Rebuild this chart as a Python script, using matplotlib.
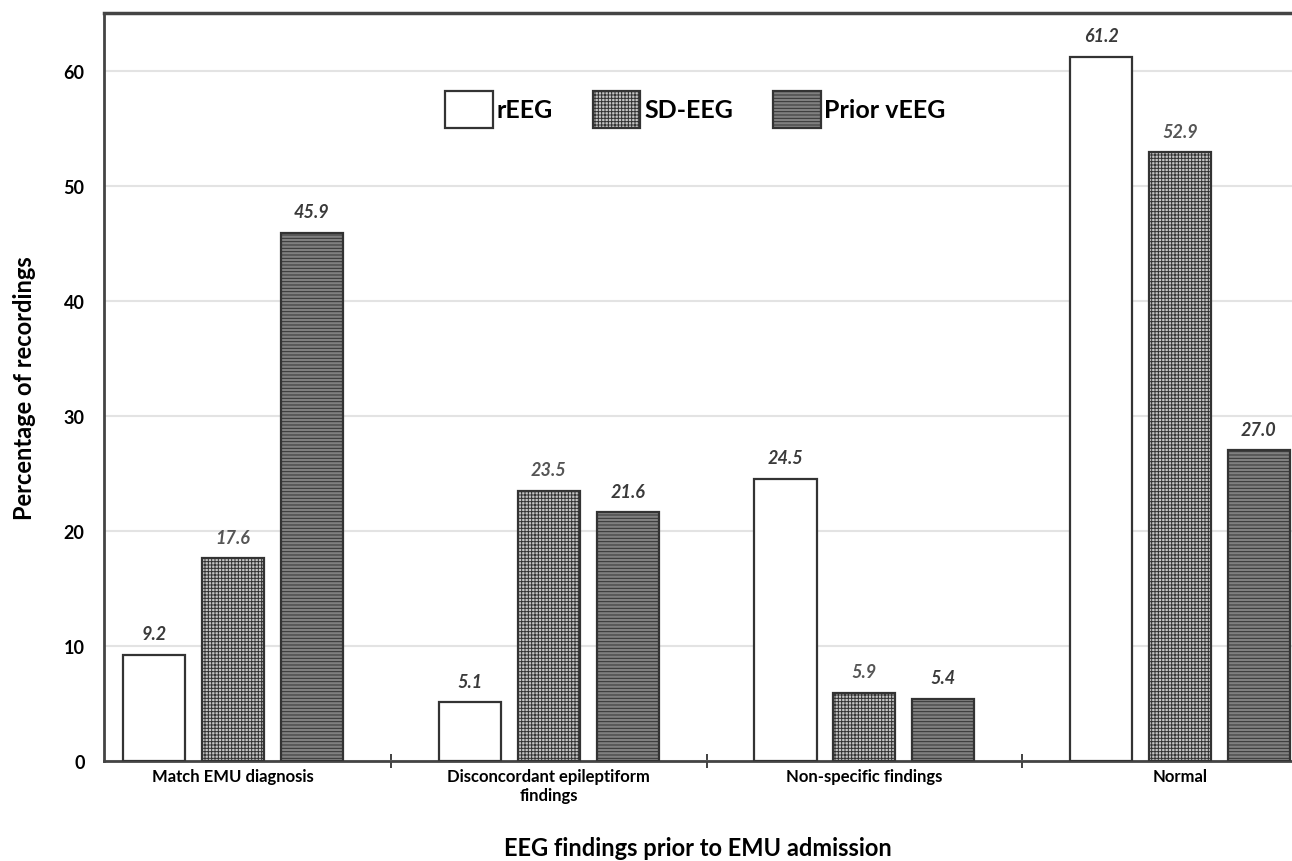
import matplotlib
matplotlib.use("Agg")
import matplotlib.pyplot as plt
import numpy as np

plt.rcParams['font.family'] = ['Lato', 'DejaVu Sans']
plt.rcParams['hatch.linewidth'] = 0.7

categories = ["Match EMU diagnosis", "Disconcordant epileptiform\nfindings",
              "Non-specific findings", "Normal"]
series_names = ["rEEG", "SD-EEG", "Prior vEEG"]
reeg = [9.2, 5.1, 24.5, 61.2]
sdeeg = [17.6, 23.5, 5.9, 52.9]
prior = [45.9, 21.6, 5.4, 27.0]
yticks = [0, 10, 20, 30, 40, 50, 60]

W, H = 1292, 862
fig = plt.figure(figsize=(W/100, H/100), dpi=100)
ax = fig.add_axes([104/W, (H-762)/H, (W-104)/W, (762-14)/H])

x = np.arange(len(categories))
bw = 0.197
off = 0.25
styles = [
    dict(facecolor='white', edgecolor='#333333', hatch=None),
    dict(facecolor='#c4c4c4', edgecolor='#333333', hatch='+++++'),
    dict(facecolor='#808080', edgecolor='#333333', hatch='-----'),
]
label_colors = ['#3a3a3a', '#555555', '#3a3a3a']
handles = []
for i, (vals, st) in enumerate(zip([reeg, sdeeg, prior], styles)):
    pos = x + (i - 1) * off
    bars = ax.bar(pos, vals, bw, facecolor=st['facecolor'], edgecolor=st['edgecolor'],
                  hatch=st['hatch'], linewidth=1.6, zorder=3, label=series_names[i])
    handles.append(bars)
    for p, v in zip(pos, vals):
        ax.text(p, v + 1.1, f"{v:.1f}", ha='center', va='bottom', fontsize=13,
                fontstyle='italic', fontweight='bold', color=label_colors[i], zorder=4)

ax.set_xlim(-0.409, 3.355)
ax.set_ylim(0, 65)
ax.set_yticks(yticks)
ax.set_yticklabels([str(t) for t in yticks], fontsize=13, fontweight='bold')
ax.tick_params(axis='y', length=0, pad=14)
ax.set_xticks(x)
ax.set_xticklabels(categories, fontsize=12, fontweight='bold')
ax.tick_params(axis='x', length=0, pad=5)
ax.set_xticks([0.5, 1.5, 2.5], minor=True)
ax.tick_params(axis='x', which='minor', length=10, width=1.3, direction='inout', color='#333333')

ax.grid(axis='y', color='#e3e3e3', linewidth=1.5, zorder=0)
ax.set_axisbelow(True)
for s in ['left', 'bottom', 'top']:
    ax.spines[s].set_color('#444444')
    ax.spines[s].set_linewidth(2.0)
ax.spines['top'].set_linewidth(2.5)
ax.spines['right'].set_visible(False)

ax.set_ylabel("Percentage of recordings", fontsize=17, fontweight='bold', labelpad=20)
ax.set_xlabel("EEG findings prior to EMU admission", fontsize=17, fontweight='bold', labelpad=24)

leg = ax.legend(handles=handles, loc='upper center', bbox_to_anchor=(0.498, 0.926), ncol=3,
                frameon=False, prop={'weight': 'bold', 'size': 18},
                handlelength=1.9, handleheight=1.9, handletextpad=0.15, columnspacing=1.6)

fig.savefig("out.png", dpi=100)
